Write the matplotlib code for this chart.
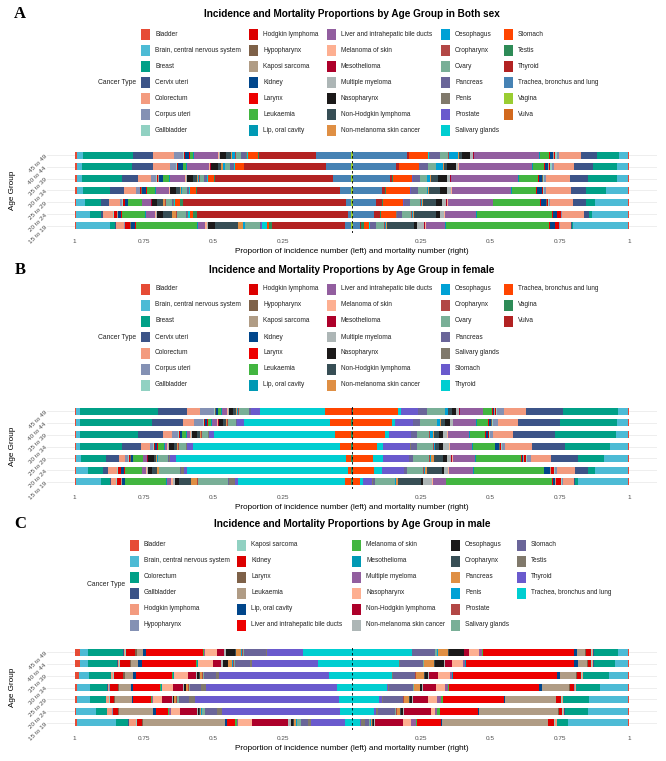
import matplotlib.pyplot as plt
from matplotlib.patches import Rectangle
import numpy as np

plt.rcParams['font.family'] = ['Liberation Sans', 'DejaVu Sans']

W, H = 666, 761

age_groups = ['45 to 49', '40 to 44', '35 to 39', '30 to 34', '25 to 29', '20 to 24', '15 to 19']

# palette used by the original (npg + lancet + jama + a few named colours)
palette = ['#E64B35', '#4DBBD5', '#00A087', '#3C5488', '#F39B7F', '#8491B4', '#91D1C2',
           '#DC0000', '#7E6148', '#B09C85', '#00468B', '#ED0000', '#42B540', '#0099B4',
           '#925E9F', '#FDAF91', '#AD002A', '#ADB6B6', '#1B1919', '#374E55', '#DF8F44',
           '#00A1D5', '#B24745', '#79AF97', '#6A6599', '#80796B', '#6A5ACD', '#00CED1',
           '#FF4500', '#2E8B57', '#B22222', '#4682B4', '#9ACD32', '#D2691E']

# ---------------- Both sex ----------------
cats_both = ['Bladder', 'Brain, central nervous system', 'Breast', 'Cervix uteri', 'Colorectum',
             'Corpus uteri', 'Gallbladder', 'Hodgkin lymphoma', 'Hypopharynx', 'Kaposi sarcoma',
             'Kidney', 'Larynx', 'Leukaemia', 'Lip, oral cavity', 'Liver and intrahepatic bile ducts',
             'Melanoma of skin', 'Mesothelioma', 'Multiple myeloma', 'Nasopharynx',
             'Non-Hodgkin lymphoma', 'Non-melanoma skin cancer', 'Oesophagus', 'Oropharynx',
             'Ovary', 'Pancreas', 'Penis', 'Prostate', 'Salivary glands', 'Stomach', 'Testis',
             'Thyroid', 'Trachea, bronchus and lung', 'Vagina', 'Vulva']

inc_both = [
    [.008, .020, .183, .070, .075, .034, .004, .002, .001, .001, .014, .003, .010, .005, .087, .003, .001,
     .003, .020, .017, .006, .010, .003, .020, .018, .001, .002, .002, .038, .002, .205, .128, .001, .001],
    [.008, .019, .180, .075, .060, .022, .004, .003, .001, .001, .015, .002, .010, .005, .080, .003, .001,
     .003, .024, .012, .005, .007, .002, .018, .012, .001, .001, .002, .032, .003, .295, .090, .001, .001],
    [.008, .019, .147, .060, .048, .018, .003, .003, .001, .001, .015, .002, .022, .004, .054, .003, .001,
     .002, .024, .014, .004, .005, .002, .016, .009, .001, .001, .002, .024, .004, .433, .067, .001, .001],
    [.008, .024, .100, .052, .045, .012, .002, .004, .001, .001, .016, .002, .031, .004, .047, .003, .001,
     .002, .022, .012, .004, .004, .002, .016, .007, .001, .001, .002, .022, .005, .530, .043, .001, .001],
    [.006, .030, .060, .030, .042, .006, .002, .007, .001, .001, .009, .002, .050, .003, .030, .003, .001,
     .002, .018, .022, .005, .003, .002, .022, .005, .001, .001, .003, .020, .010, .600, .020, .001, .001],
    [.006, .050, .040, .008, .036, .003, .002, .012, .001, .001, .013, .002, .087, .003, .032, .003, .001,
     .003, .022, .036, .012, .003, .002, .035, .004, .001, .001, .008, .012, .012, .560, .013, .001, .001],
    [.004, .126, .016, .003, .032, .002, .002, .018, .001, .002, .014, .002, .226, .003, .024, .006, .001,
     .004, .026, .085, .017, .006, .002, .054, .004, .001, .001, .018, .008, .012, .265, .025, .001, .001],
]

mort_both = [
    [.005, .034, .080, .060, .082, .008, .006, .002, .002, .002, .012, .004, .032, .004, .240, .002, .002,
     .010, .030, .012, .003, .036, .003, .030, .038, .001, .002, .001, .070, .001, .006, .203, .001, .001],
    [.005, .042, .088, .069, .076, .007, .005, .003, .002, .002, .014, .003, .040, .004, .270, .002, .001,
     .008, .031, .014, .002, .026, .002, .028, .032, .001, .001, .001, .072, .001, .010, .161, .001, .001],
    [.004, .042, .108, .067, .087, .006, .004, .003, .001, .002, .012, .002, .072, .003, .247, .002, .001,
     .012, .034, .026, .002, .012, .002, .024, .026, .001, .001, .001, .072, .002, .010, .137, .001, .001],
    [.004, .083, .072, .057, .094, .005, .003, .004, .001, .002, .018, .002, .090, .003, .220, .003, .001,
     .014, .024, .042, .002, .005, .002, .030, .028, .001, .001, .001, .089, .002, .012, .110, .001, .001],
    [.004, .123, .036, .045, .088, .004, .002, .006, .001, .002, .018, .002, .175, .002, .168, .004, .001,
     .016, .024, .048, .003, .004, .002, .038, .024, .001, .001, .002, .072, .004, .022, .089, .001, .001],
    [.004, .135, .012, .020, .082, .003, .002, .012, .001, .002, .014, .003, .284, .002, .117, .004, .001,
     .015, .014, .084, .004, .004, .002, .034, .020, .001, .001, .002, .054, .006, .022, .080, .001, .001],
    [.004, .210, .005, .004, .043, .002, .002, .012, .001, .002, .017, .003, .395, .002, .075, .004, .001,
     .028, .012, .102, .004, .005, .002, .030, .024, .001, .001, .004, .018, .010, .004, .029, .001, .001],
]

# ---------------- Female ----------------
cats_female = ['Bladder', 'Brain, central nervous system', 'Breast', 'Cervix uteri', 'Colorectum',
               'Corpus uteri', 'Gallbladder', 'Hodgkin lymphoma', 'Hypopharynx', 'Kaposi sarcoma',
               'Kidney', 'Larynx', 'Leukaemia', 'Lip, oral cavity', 'Liver and intrahepatic bile ducts',
               'Melanoma of skin', 'Mesothelioma', 'Multiple myeloma', 'Nasopharynx',
               'Non-Hodgkin lymphoma', 'Non-melanoma skin cancer', 'Oesophagus', 'Oropharynx',
               'Ovary', 'Pancreas', 'Salivary glands', 'Stomach', 'Thyroid',
               'Trachea, bronchus and lung', 'Vagina', 'Vulva']

inc_female = [
    [.004, .016, .286, .108, .048, .050, .004, .002, .001, .001, .007, .001, .010, .004, .020, .003, .001,
     .003, .016, .010, .004, .004, .001, .040, .004, .002, .032, .240, .097, .001, .002],
    [.004, .016, .267, .112, .040, .036, .003, .002, .001, .001, .008, .001, .012, .004, .020, .003, .001,
     .002, .014, .010, .004, .003, .001, .030, .003, .002, .024, .319, .079, .001, .001],
    [.004, .014, .214, .093, .032, .024, .002, .003, .001, .001, .007, .001, .014, .003, .012, .003, .001,
     .002, .018, .012, .003, .002, .001, .022, .003, .002, .020, .445, .060, .001, .001],
    [.004, .014, .156, .072, .030, .014, .002, .003, .001, .001, .008, .001, .024, .003, .008, .003, .001,
     .002, .020, .010, .003, .002, .001, .026, .002, .002, .024, .540, .043, .001, .001],
    [.004, .020, .090, .050, .022, .012, .002, .005, .001, .001, .006, .001, .036, .003, .012, .003, .001,
     .002, .020, .010, .003, .002, .001, .038, .002, .004, .022, .627, .020, .001, .001],
    [.005, .045, .055, .017, .034, .003, .002, .010, .001, .001, .012, .001, .063, .003, .014, .003, .001,
     .002, .016, .018, .006, .002, .001, .078, .002, .012, .010, .600, .013, .001, .001],
    [.004, .092, .036, .003, .018, .002, .002, .014, .001, .002, .012, .001, .152, .003, .017, .005, .001,
     .008, .016, .042, .022, .003, .001, .113, .002, .024, .012, .395, .025, .001, .001],
]

mort_female = [
    [.003, .038, .199, .138, .080, .022, .006, .002, .001, .002, .006, .002, .032, .003, .082, .002, .001,
     .012, .016, .013, .002, .008, .002, .064, .032, .001, .064, .008, .167, .001, .001],
    [.003, .042, .209, .154, .072, .018, .005, .002, .001, .002, .007, .002, .041, .003, .084, .002, .001,
     .010, .018, .015, .002, .012, .002, .060, .026, .001, .066, .012, .143, .001, .001],
    [.003, .047, .223, .154, .072, .012, .005, .002, .001, .002, .007, .002, .057, .003, .078, .002, .001,
     .012, .018, .018, .002, .012, .002, .046, .020, .001, .080, .016, .119, .001, .001],
    [.003, .069, .162, .123, .097, .014, .004, .003, .001, .002, .013, .002, .081, .002, .082, .003, .001,
     .020, .016, .014, .002, .004, .002, .058, .024, .001, .099, .022, .091, .001, .001],
    [.003, .090, .096, .099, .072, .016, .004, .005, .001, .002, .006, .002, .168, .002, .082, .004, .001,
     .016, .016, .030, .012, .004, .002, .062, .012, .001, .096, .036, .075, .001, .001],
    [.004, .123, .024, .048, .069, .006, .004, .012, .001, .002, .022, .002, .259, .002, .088, .004, .001,
     .014, .008, .054, .008, .006, .002, .060, .010, .002, .081, .028, .080, .001, .001],
    [.004, .189, .012, .005, .042, .003, .003, .018, .001, .002, .010, .002, .400, .002, .048, .004, .001,
     .034, .008, .087, .004, .004, .002, .077, .004, .004, .034, .012, .029, .001, .001],
]

# ---------------- Male ----------------
cats_male = ['Bladder', 'Brain, central nervous system', 'Colorectum', 'Gallbladder',
             'Hodgkin lymphoma', 'Hypopharynx', 'Kaposi sarcoma', 'Kidney', 'Larynx', 'Leukaemia',
             'Lip, oral cavity', 'Liver and intrahepatic bile ducts', 'Melanoma of skin',
             'Mesothelioma', 'Multiple myeloma', 'Nasopharynx', 'Non-Hodgkin lymphoma',
             'Non-melanoma skin cancer', 'Oesophagus', 'Oropharynx', 'Pancreas', 'Penis',
             'Prostate', 'Salivary glands', 'Stomach', 'Testis', 'Thyroid',
             'Trachea, bronchus and lung']

inc_male = [
    [.018, .030, .129, .004, .003, .002, .002, .034, .006, .024, .012, .208, .003, .001, .004, .045, .024,
     .008, .034, .004, .016, .003, .006, .004, .078, .004, .132, .182],
    [.018, .030, .108, .003, .004, .002, .002, .036, .005, .025, .014, .202, .003, .001, .003, .054, .030,
     .006, .018, .003, .014, .002, .004, .006, .054, .008, .243, .125],
    [.016, .036, .081, .003, .005, .002, .002, .036, .004, .030, .012, .136, .003, .001, .003, .050, .030,
     .004, .008, .002, .008, .002, .002, .006, .042, .012, .409, .085],
    [.008, .048, .064, .002, .006, .002, .002, .030, .003, .042, .010, .101, .003, .001, .003, .040, .036,
     .004, .006, .002, .006, .002, .001, .006, .042, .016, .487, .055],
    [.008, .048, .058, .002, .010, .002, .002, .017, .002, .062, .005, .067, .004, .001, .003, .032, .036,
     .004, .004, .002, .005, .002, .001, .010, .038, .020, .533, .049],
    [.006, .072, .042, .002, .018, .002, .002, .018, .002, .130, .008, .046, .005, .001, .004, .034, .063,
     .005, .006, .002, .004, .002, .001, .010, .045, .020, .443, .043],
    [.008, .144, .043, .002, .026, .002, .003, .018, .002, .300, .008, .031, .006, .001, .004, .050, .130,
     .012, .008, .003, .008, .003, .001, .012, .028, .012, .123, .025],
]

mort_male = [
    [.005, .037, .089, .004, .002, .002, .002, .019, .004, .029, .012, .337, .002, .001, .010, .038, .019,
     .002, .053, .003, .040, .001, .002, .006, .084, .001, .002, .221],
    [.005, .046, .080, .003, .002, .002, .002, .012, .003, .036, .012, .400, .002, .001, .009, .042, .026,
     .002, .034, .003, .036, .001, .001, .002, .087, .001, .002, .173],
    [.004, .071, .094, .003, .003, .001, .002, .016, .002, .060, .012, .381, .002, .001, .010, .042, .036,
     .002, .012, .002, .030, .001, .001, .002, .081, .002, .002, .147],
    [.004, .102, .089, .002, .003, .001, .002, .016, .002, .099, .012, .329, .003, .001, .012, .032, .048,
     .002, .008, .002, .020, .001, .001, .003, .088, .003, .004, .128],
    [.004, .143, .096, .002, .004, .001, .002, .018, .002, .187, .004, .226, .004, .001, .014, .036, .055,
     .002, .008, .002, .020, .001, .001, .003, .072, .004, .012, .099],
    [.004, .150, .087, .002, .006, .001, .002, .012, .002, .298, .004, .141, .012, .001, .006, .016, .100,
     .003, .010, .003, .012, .001, .001, .003, .066, .006, .008, .083],
    [.004, .227, .040, .002, .006, .002, .002, .022, .002, .400, .003, .088, .004, .001, .020, .028, .105,
     .004, .004, .004, .004, .003, .002, .004, .015, .015, .004, .029],
]

tick_pos = [-1, -0.75, -0.5, -0.25, 0.25, 0.5, 0.75, 1]
tick_text = ['1', '0.75', '0.5', '0.25', '0.25', '0.5', '0.75', '1']


def fx(x):
    return x / W


def fy(y):
    return 1 - y / H


fig = plt.figure(figsize=(W / 100, H / 100), dpi=100)


def draw_panel(letter, title, cats, inc, mort, top, title_y, leg_y, leg_x, nrow, ct_x):
    colors = palette[:len(cats)]

    # header
    fig.text(fx(20), fy(title_y), letter, family='Liberation Serif', weight='bold',
             fontsize=12, ha='center', va='center')
    fig.text(fx(352), fy(title_y), title, weight='bold', fontsize=7.2, ha='center', va='center')

    # legend (filled by column like ggplot)
    step = 16
    for i, name in enumerate(cats):
        c, r = divmod(i, nrow)
        x0 = leg_x[c]
        yc = leg_y + r * step
        fig.patches.append(Rectangle((fx(x0), fy(yc + 5.5)), 9 / W, 11 / H,
                                     transform=fig.transFigure, color=colors[i], lw=0))
        fig.text(fx(x0 + 14), fy(yc), name, fontsize=4.7, color='#222222', va='center', ha='left')
    fig.text(fx(ct_x), fy(leg_y + (nrow - 1) * step / 2), 'Cancer Type', fontsize=4.9,
             color='#222222', ha='right', va='center')

    # bars
    ph = 85
    ax = fig.add_axes([fx(47), fy(top + ph), 610 / W, ph / H])
    n = len(age_groups)
    for i in range(n):
        y = n - i
        p = np.array(inc[i]) / sum(inc[i])
        left = -1 + np.concatenate([[0], np.cumsum(p)[:-1]])
        ax.barh(y, p, left=left, height=0.6, color=colors, lw=0, zorder=2)
        q = np.array(mort[i]) / sum(mort[i])
        right_edge = 1 - np.concatenate([[0], np.cumsum(q)[:-1]])
        ax.barh(y, q, left=right_edge - q, height=0.6, color=colors, lw=0, zorder=2)
        ax.axhline(y, color='#EBEBEB', lw=0.6, zorder=0)
    ax.axvline(0, color='black', lw=0.6, ls=(0, (3, 3)), zorder=3)

    ax.set_xlim(-1.1, 1.1)
    ax.set_ylim(0.4, n + 0.6)
    ax.set_xticks(tick_pos)
    ax.set_xticklabels(tick_text, fontsize=4.6, color='#4D4D4D')
    ax.set_yticks(range(n, 0, -1))
    ax.set_yticklabels(age_groups, fontsize=4.6, color='#4D4D4D', rotation=45,
                       ha='right', rotation_mode='anchor')
    ax.tick_params(axis='x', length=0, pad=4)
    ax.tick_params(axis='y', length=0, pad=1)
    for s in ax.spines.values():
        s.set_visible(False)
    ax.set_xlabel('Proportion of incidence number (left) and mortality number (right)',
                  fontsize=5.9, labelpad=3)
    fig.text(fx(13), fy(top + ph / 2), 'Age Group', fontsize=5.9, rotation=90,
             ha='center', va='center')


draw_panel('A', 'Incidence and Mortality Proportions by Age Group in Both sex',
           cats_both, inc_both, mort_both, top=148, title_y=14, leg_y=34,
           leg_x=[141, 249, 327, 441, 504], nrow=7, ct_x=136)
draw_panel('B', 'Incidence and Mortality Proportions by Age Group in female',
           cats_female, inc_female, mort_female, top=404, title_y=270, leg_y=289,
           leg_x=[141, 249, 327, 441, 504], nrow=7, ct_x=136)
draw_panel('C', 'Incidence and Mortality Proportions by Age Group in male',
           cats_male, inc_male, mort_male, top=645, title_y=524, leg_y=545,
           leg_x=[130, 237, 352, 451, 517], nrow=6, ct_x=125)

fig.savefig('out.png', dpi=100)
